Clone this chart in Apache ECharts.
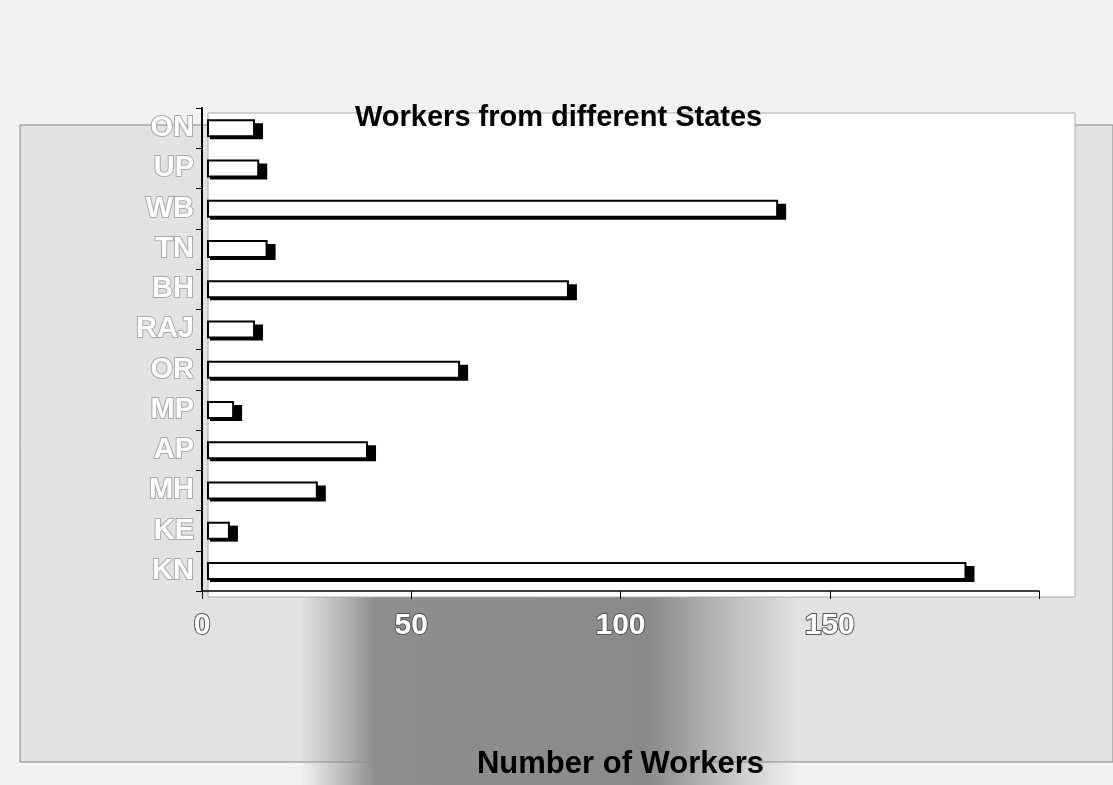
<!DOCTYPE html>
<html>
<head>
<meta charset="utf-8">
<script src="https://cdn.jsdelivr.net/npm/echarts@6/dist/echarts.min.js"></script>
<style>
  html, body { margin: 0; padding: 0; background: #f2f2f2; }
  #chart { width: 1113px; height: 785px; }
</style>
</head>
<body>
<div id="chart"></div>
<script>
// states, top to bottom as printed
const states = ["ON", "UP", "WB", "TN", "BH", "RAJ", "OR", "MP", "AP", "MH", "KE", "KN"];
const workers = [11, 12, 136, 14, 86, 11, 60, 6, 38, 26, 5, 181];
const xTicks = [0, 50, 100, 150, 200];

// 3d-ish bar: black side block behind a white face with black outline
function renderBar(params, api) {
  let val = api.value(0);
  let cat = api.value(1);
  let start = api.coord([0, cat]);
  let end = api.coord([val, cat]);
  let h = 16;
  let x0 = start[0] + 6;
  let x1 = end[0] + 6;
  let y0 = start[1] - h / 2;
  return {
    type: "group",
    children: [
      {
        type: "rect",
        shape: { x: x0 + 2, y: y0 + 3, width: x1 - x0 + 7, height: h },
        style: { fill: "#000" },
      },
      {
        type: "rect",
        shape: { x: x0, y: y0, width: x1 - x0, height: h },
        style: { fill: "#fff", stroke: "#000", lineWidth: 2 },
      },
    ],
  };
}

let myChart = echarts.init(document.getElementById("chart"));
let option = {
  backgroundColor: "#f2f2f2",
  animation: false,
  title: {
    text: "Workers from different States",
    left: 350,
    top: 98,
    textStyle: {
      fontFamily: "Liberation Sans",
      fontWeight: "bold",
      fontSize: 29,
      color: "#000",
    },
  },
  graphic: [
    {
      type: "rect",
      z: -10,
      shape: { x: 20, y: 125, width: 1093, height: 637 },
      style: { fill: "#e2e2e2", stroke: "#888", lineWidth: 1 },
    },
    {
      type: "rect",
      z: -9,
      shape: { x: 300, y: 588, width: 500, height: 197 },
      style: {
        fill: {
          type: "linear", x: 0, y: 0, x2: 1, y2: 0,
          colorStops: [
            { offset: 0, color: "rgba(150,150,150,0)" },
            { offset: 0.15, color: "#8e8e8e" },
            { offset: 0.7, color: "#8a8a8a" },
            { offset: 1, color: "rgba(150,150,150,0)" },
          ],
        },
      },
    },
    {
      type: "rect",
      z: -8,
      shape: { x: 208, y: 113, width: 867, height: 484 },
      style: { fill: "#fff", stroke: "#aaa", lineWidth: 1 },
    },
  ],
  grid: {
    left: 202,
    right: 74,
    top: 108,
    bottom: 189,
  },
  xAxis: {
    type: "value",
    min: 0,
    max: 200,
    interval: 50,
    name: "Number of Workers",
    nameLocation: "middle",
    nameGap: 158,
    nameTextStyle: {
      fontFamily: "Liberation Sans",
      fontWeight: "bold",
      fontSize: 31,
      color: "#000",
    },
    splitLine: { show: false },
    axisLine: { show: true, lineStyle: { color: "#000", width: 1.5 } },
    axisTick: { show: true, length: 8, lineStyle: { color: "#000" } },
    axisLabel: {
      margin: 20,
      fontFamily: "Liberation Sans",
      fontWeight: "bold",
      fontSize: 30,
      color: "#fff",
      textBorderColor: "#555",
      textBorderWidth: 2,
      formatter: (v) => (xTicks.indexOf(v) >= 0 && v < 200 ? String(v) : ""),
    },
  },
  yAxis: {
    type: "category",
    data: states,
    inverse: true,
    axisLine: { show: true, lineStyle: { color: "#000", width: 2 } },
    axisTick: { show: true, length: 6, lineStyle: { color: "#000" } },
    axisLabel: {
      margin: 8,
      fontFamily: "Liberation Sans",
      fontWeight: "bold",
      fontSize: 29,
      color: "#fff",
      textBorderColor: "#aaa",
      textBorderWidth: 2,
    },
  },
  series: [
    {
      name: "Workers",
      type: "custom",
      renderItem: renderBar,
      encode: { x: 0, y: 1 },
      data: states.map((s, i) => [workers[i], i]),
    },
  ],
};
myChart.setOption(option);
</script>
</body>
</html>
